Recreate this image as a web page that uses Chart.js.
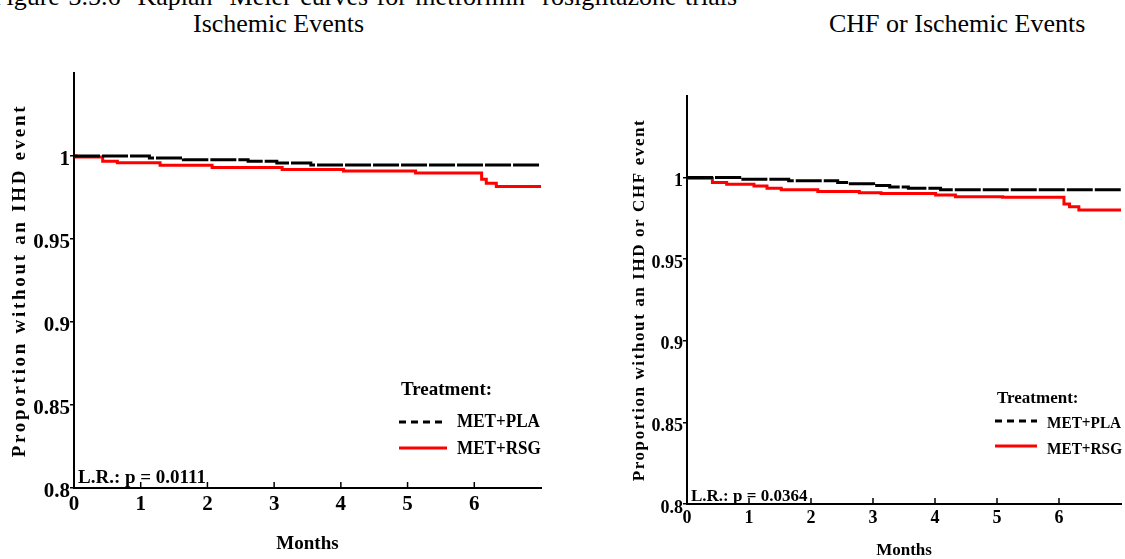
<!DOCTYPE html>
<html>
<head>
<meta charset="utf-8">
<script src="https://cdn.jsdelivr.net/npm/chart.js@4.4.1/dist/chart.umd.min.js"></script>
<style>
  body { margin: 0; background: #fff; width: 1125px; height: 559px; overflow: hidden; position: relative; font-family: "Liberation Serif", serif; }
  .cap { position: absolute; font-size: 26px; line-height: 26px; color: #000; white-space: pre; }
  canvas { position: absolute; }
</style>
</head>
<body>
<div class="cap" style="left:-8px; top:-16px; word-spacing:2px;">Figure 3.5.6  Kaplan- Meier curves for metformin- rosiglitazone trials</div>
<div class="cap" style="left:193px; top:11px;">Ischemic Events</div>
<div class="cap" style="left:829px; top:11px;">CHF or Ischemic Events</div>
<canvas id="ihd" width="560" height="519" style="left:0; top:40px;"></canvas>
<canvas id="chf" width="560" height="519" style="left:565px; top:40px;"></canvas>
<script>
// Ischemic events: step times (months) and survival after each step
let ihdPlaTimes = [0, 1.13, 1.64, 2.61, 3.04, 3.55, 7.0];
let ihdPlaSurv  = [1.0, 0.9988, 0.9978, 0.9968, 0.9958, 0.9946, 0.9946];
let ihdRsgTimes = [0, 0.03, 0.43, 0.65, 1.29, 2.07, 3.12, 4.04, 5.12, 6.11, 6.18, 6.33, 7.0];
let ihdRsgSurv  = [1.0, 0.9994, 0.9968, 0.9959, 0.9945, 0.9931, 0.9919, 0.9909, 0.9897, 0.9860, 0.9836, 0.9816, 0.9816];

// CHF or ischemic events
let chfPlaTimes = [0, 0.85, 1.64, 2.43, 2.60, 3.01, 3.27, 3.57, 4.09, 7.0];
let chfPlaSurv  = [1.0, 0.9990, 0.9980, 0.9970, 0.9962, 0.9952, 0.9943, 0.9935, 0.9925, 0.9925];
let chfRsgTimes = [0, 0.03, 0.41, 0.64, 1.08, 1.29, 1.52, 2.11, 2.78, 3.13, 4.01, 4.33, 5.09, 6.08, 6.17, 6.32, 7.0];
let chfRsgSurv  = [1.0, 0.9996, 0.9970, 0.9960, 0.9949, 0.9935, 0.9925, 0.9915, 0.9907, 0.9903, 0.9893, 0.9883, 0.9879, 0.9838, 0.9822, 0.9802, 0.9802];

let monthTicks = [0, 1, 2, 3, 4, 5, 6];
let propTicks = [0.8, 0.85, 0.9, 0.95, 1];
let treatments = ['MET+PLA', 'MET+RSG'];

function toPoints(times, surv) {
  return times.map(function(t, i) { return {x: t, y: surv[i]}; });
}

// y title with letter spacing, legend box, log-rank text and inward x ticks
const kmText = {
  id: 'kmText',
  afterDraw(chart, args, o) {
    const ctx = chart.ctx;
    const area = chart.chartArea;
    const xs = chart.scales.x;
    ctx.save();

    ctx.strokeStyle = '#000';
    ctx.lineWidth = 1.5;
    xs.ticks.forEach(function(t) {
      const px = xs.getPixelForValue(t.value);
      ctx.beginPath();
      ctx.moveTo(px, area.bottom);
      ctx.lineTo(px, area.bottom - 6);
      ctx.stroke();
    });

    ctx.fillStyle = '#000';
    ctx.save();
    ctx.font = 'bold ' + o.titleSize + 'px "Liberation Serif"';
    ctx.letterSpacing = o.titleSpacing + 'px';
    ctx.translate(o.titleX, (area.top + area.bottom) / 2);
    ctx.rotate(-Math.PI / 2);
    ctx.textAlign = 'center';
    ctx.textBaseline = 'middle';
    ctx.fillText(o.yTitle, 0, 0);
    ctx.restore();

    ctx.font = 'bold ' + o.textSize + 'px "Liberation Serif"';
    ctx.textAlign = 'left';
    ctx.textBaseline = 'alphabetic';
    ctx.fillText('Treatment:', o.legX, o.legY);
    ctx.fillText(o.lr, o.lrX, o.lrY);

    chart.data.datasets.forEach(function(ds, i) {
      const ly = o.lineY[i];
      ctx.beginPath();
      ctx.setLineDash(i === 0 ? [7, 5] : []);
      ctx.strokeStyle = ds.borderColor;
      ctx.lineWidth = 3;
      ctx.moveTo(o.legX - 2, ly);
      ctx.lineTo(o.legX - 2 + o.lineLen, ly);
      ctx.stroke();
      ctx.setLineDash([]);
      // series names are set a little narrower
      ctx.save();
      ctx.translate(o.legX + o.lineLen + 8, o.textY[i]);
      ctx.scale(0.9, 1);
      ctx.fillText(ds.label, 0, 0);
      ctx.restore();
    });
    ctx.restore();
  }
};

function makeChart(id, pla, rsg, s) {
  const tickFont = {family: 'Liberation Serif', weight: 'bold', size: s.tickSize};
  return new Chart(document.getElementById(id), {
    type: 'line',
    data: {
      datasets: [{
        label: treatments[0],
        data: pla,
        borderColor: '#000000',
        borderWidth: 3,
        borderDash: [26, 2],
        pointRadius: 0,
        stepped: true
      }, {
        label: treatments[1],
        data: rsg,
        borderColor: '#ff0000',
        borderWidth: 3,
        pointRadius: 0,
        stepped: true
      }]
    },
    options: {
      responsive: false,
      animation: false,
      devicePixelRatio: 1,
      layout: {padding: {top: s.padTop, right: s.padRight, left: 0, bottom: 0}},
      plugins: {
        legend: {display: false},
        tooltip: {enabled: false},
        kmText: s.text
      },
      scales: {
        x: {
          type: 'linear',
          min: 0,
          max: 7,
          afterBuildTicks: function(scale) {
            scale.ticks = monthTicks.map(function(v) { return {value: v}; });
          },
          afterFit: function(scale) { scale.height = s.xHeight; },
          grid: {display: false, drawTicks: false},
          border: {display: true, color: '#000', width: 2},
          ticks: {color: '#000', font: tickFont, padding: 4, maxRotation: 0},
          title: {
            display: true,
            text: 'Months',
            color: '#000',
            font: {family: 'Liberation Serif', weight: 'bold', size: s.monthSize, lineHeight: 1},
            padding: {top: 0, bottom: s.monthPad}
          }
        },
        y: {
          type: 'linear',
          min: 0.8,
          max: 1.05,
          afterBuildTicks: function(scale) {
            scale.ticks = propTicks.map(function(v) { return {value: v}; });
          },
          afterFit: function(scale) { scale.width = s.yWidth; },
          grid: {display: true, drawOnChartArea: false, drawTicks: true, tickLength: 4, color: '#000', lineWidth: 1.5},
          border: {display: true, color: '#000', width: 2},
          ticks: {
            color: '#000',
            font: tickFont,
            padding: 0,
            labelOffset: 4,
            callback: function(value) { return String(+value.toFixed(2)); }
          }
        }
      }
    },
    plugins: [kmText]
  });
}

makeChart('ihd', toPoints(ihdPlaTimes, ihdPlaSurv), toPoints(ihdRsgTimes, ihdRsgSurv), {
  tickSize: 21, monthSize: 19, monthPad: 5,
  padTop: 33, padRight: 19, xHeight: 71, yWidth: 74,
  text: {
    yTitle: 'Proportion without an IHD event', titleSize: 19, titleSpacing: 2.7, titleX: 20,
    textSize: 19, legX: 401, legY: 355, lineLen: 48, lineY: [382, 408], textY: [387, 414],
    lr: 'L.R.: p = 0.0111', lrX: 78, lrY: 443
  }
});

makeChart('chf', toPoints(chfPlaTimes, chfPlaSurv), toPoints(chfRsgTimes, chfRsgSurv), {
  tickSize: 18, monthSize: 17, monthPad: 0,
  padTop: 56, padRight: 4, xHeight: 55, yWidth: 122,
  text: {
    yTitle: 'Proportion without an IHD or CHF event', titleSize: 17, titleSpacing: 1.6, titleX: 75,
    textSize: 17, legX: 432, legY: 363, lineLen: 42, lineY: [381, 406], textY: [388, 414],
    lr: 'L.R.: p = 0.0364', lrX: 126, lrY: 461
  }
});
</script>
</body>
</html>
